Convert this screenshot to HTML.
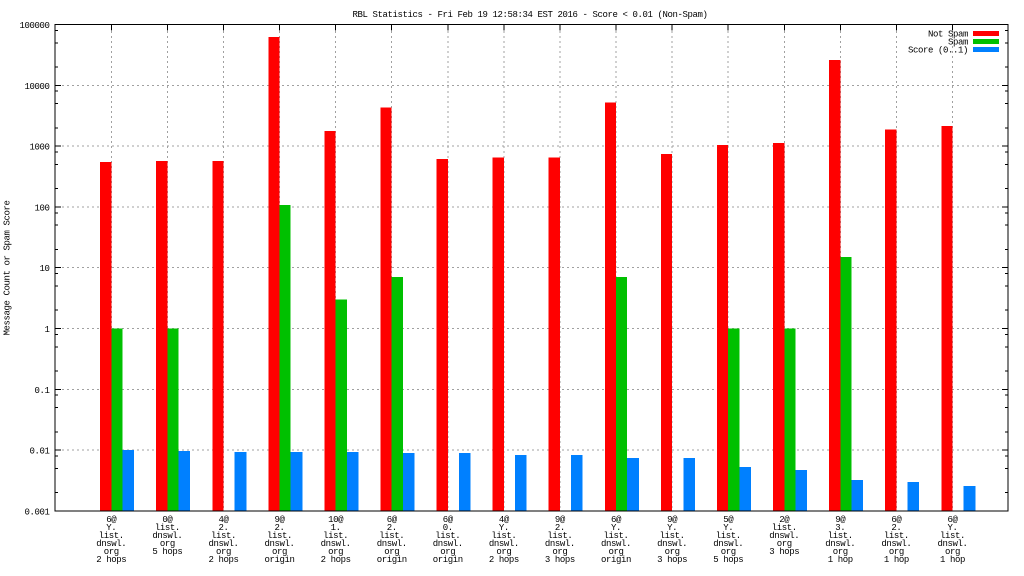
<!DOCTYPE html>
<html>
<head>
<meta charset="utf-8">
<style>
html,body{margin:0;padding:0;background:#fff;}
svg{display:block;}
text{font-family:"Liberation Mono","DejaVu Sans Mono",monospace;font-size:9px;letter-spacing:-0.4px;fill:#000;}
</style>
</head>
<body>
<svg width="1024" height="576" viewBox="0 0 1024 576" xmlns="http://www.w3.org/2000/svg">
<rect x="0" y="0" width="1024" height="576" fill="#fff"/>

<!-- grid -->
<g stroke="#a0a0a0" stroke-width="1" stroke-dasharray="2,3" fill="none" shape-rendering="crispEdges">
<path d="M62 85.3H1002M62 146.1H1002M62 206.9H1002M62 267.7H1002M62 328.5H1002M62 389.3H1002M62 450.1H1002"/>
<path d="M111.3 31V511M167.4 31V511M223.5 31V511M279.5 31V511M335.6 31V511M391.7 31V511M447.8 31V511M503.9 31V511M559.9 31V511M616 31V511M672.1 31V511M728.2 31V511M784.3 31V511M840.3 31V511M896.4 31V511M952.5 31V511"/>
</g>

<!-- bars -->
<g shape-rendering="crispEdges">
<g fill="#ff0000">
<rect x="100.1" y="162" width="11.2" height="349"/>
<rect x="156.2" y="161" width="11.2" height="350"/>
<rect x="212.3" y="161" width="11.2" height="350"/>
<rect x="268.3" y="37" width="11.2" height="474"/>
<rect x="324.4" y="131" width="11.2" height="380"/>
<rect x="380.5" y="107.7" width="11.2" height="403.3"/>
<rect x="436.6" y="159" width="11.2" height="352"/>
<rect x="492.7" y="157.7" width="11.2" height="353.3"/>
<rect x="548.7" y="157.7" width="11.2" height="353.3"/>
<rect x="604.8" y="102.7" width="11.2" height="408.3"/>
<rect x="660.9" y="154" width="11.2" height="357"/>
<rect x="717" y="145" width="11.2" height="366"/>
<rect x="773.1" y="143" width="11.2" height="368"/>
<rect x="829.1" y="60" width="11.2" height="451"/>
<rect x="885.2" y="129.7" width="11.2" height="381.3"/>
<rect x="941.3" y="126" width="11.2" height="385"/>
</g>
<g fill="#00c000">
<rect x="111.3" y="328.5" width="11.2" height="182.5"/>
<rect x="167.4" y="328.5" width="11.2" height="182.5"/>
<rect x="279.5" y="205" width="11.2" height="306"/>
<rect x="335.6" y="299.5" width="11.2" height="211.5"/>
<rect x="391.7" y="277" width="11.2" height="234"/>
<rect x="616" y="277" width="11.2" height="234"/>
<rect x="728.2" y="328.5" width="11.2" height="182.5"/>
<rect x="784.3" y="328.5" width="11.2" height="182.5"/>
<rect x="840.3" y="257" width="11.2" height="254"/>
</g>
<g fill="#0080ff">
<rect x="122.5" y="450" width="11.6" height="61"/>
<rect x="178.6" y="451" width="11.6" height="60"/>
<rect x="234.7" y="452" width="11.6" height="59"/>
<rect x="290.7" y="452" width="11.6" height="59"/>
<rect x="346.8" y="452" width="11.6" height="59"/>
<rect x="402.9" y="453" width="11.6" height="58"/>
<rect x="459" y="453" width="11.6" height="58"/>
<rect x="515.1" y="455" width="11.6" height="56"/>
<rect x="571.1" y="455" width="11.6" height="56"/>
<rect x="627.2" y="458" width="11.6" height="53"/>
<rect x="683.3" y="458" width="11.6" height="53"/>
<rect x="739.4" y="467" width="11.6" height="44"/>
<rect x="795.5" y="470" width="11.6" height="41"/>
<rect x="851.5" y="480" width="11.6" height="31"/>
<rect x="907.6" y="482" width="11.6" height="29"/>
<rect x="963.7" y="486" width="11.6" height="25"/>
</g>
</g>

<!-- border and ticks -->
<g stroke="#000" stroke-width="1" fill="none" shape-rendering="crispEdges">
<rect x="55" y="24.5" width="953" height="486.5"/>
<path d="M55 85.3H61M55 146.1H61M55 206.9H61M55 267.7H61M55 328.5H61M55 389.3H61M55 450.1H61"/>
<path d="M1008 85.3H1002M1008 146.1H1002M1008 206.9H1002M1008 267.7H1002M1008 328.5H1002M1008 389.3H1002M1008 450.1H1002"/>
<path d="M55 30.4H58M55 42.8H58M55 67H58M55 91.2H58M55 103.6H58M55 127.8H58M55 152H58M55 164.4H58M55 188.6H58M55 212.8H58M55 225.2H58M55 249.4H58M55 273.6H58M55 286H58M55 310.2H58M55 334.4H58M55 346.8H58M55 371H58M55 395.2H58M55 407.6H58M55 431.8H58M55 456H58M55 468.4H58M55 492.6H58"/>
<path d="M1008 30.4H1005M1008 42.8H1005M1008 67H1005M1008 91.2H1005M1008 103.6H1005M1008 127.8H1005M1008 152H1005M1008 164.4H1005M1008 188.6H1005M1008 212.8H1005M1008 225.2H1005M1008 249.4H1005M1008 273.6H1005M1008 286H1005M1008 310.2H1005M1008 334.4H1005M1008 346.8H1005M1008 371H1005M1008 395.2H1005M1008 407.6H1005M1008 431.8H1005M1008 456H1005M1008 468.4H1005M1008 492.6H1005"/>
<path d="M111.3 24.5V30.5M167.4 24.5V30.5M223.5 24.5V30.5M279.5 24.5V30.5M335.6 24.5V30.5M391.7 24.5V30.5M447.8 24.5V30.5M503.9 24.5V30.5M559.9 24.5V30.5M616 24.5V30.5M672.1 24.5V30.5M728.2 24.5V30.5M784.3 24.5V30.5M840.3 24.5V30.5M896.4 24.5V30.5M952.5 24.5V30.5"/>
</g>

<!-- title -->
<text x="530" y="17" text-anchor="middle">RBL Statistics - Fri Feb 19 12:58:34 EST 2016 - Score &lt; 0.01 (Non-Spam)</text>

<!-- y tick labels -->
<g text-anchor="end">
<text x="49.5" y="28">100000</text>
<text x="49.5" y="88.8">10000</text>
<text x="49.5" y="149.6">1000</text>
<text x="49.5" y="210.4">100</text>
<text x="49.5" y="271.2">10</text>
<text x="49.5" y="332">1</text>
<text x="49.5" y="392.8">0.1</text>
<text x="49.5" y="453.6">0.01</text>
<text x="49.5" y="514.4">0.001</text>
</g>

<!-- y axis label -->
<text transform="translate(9.5,268) rotate(-90)" text-anchor="middle">Message Count or Spam Score</text>

<!-- legend -->
<g text-anchor="end">
<text x="968" y="36.5">Not Spam</text>
<text x="968" y="44.5">Spam</text>
<text x="968" y="52.5">Score (0..1)</text>
</g>
<g shape-rendering="crispEdges">
<rect x="973" y="31" width="26" height="5" fill="#ff0000"/>
<rect x="973" y="39" width="26" height="5" fill="#00c000"/>
<rect x="973" y="47" width="26" height="5" fill="#0080ff"/>
</g>

<!-- x labels -->
<g text-anchor="middle">
<text x="111.3" y="522">6@</text><text x="111.3" y="530">Y.</text><text x="111.3" y="538">list.</text><text x="111.3" y="546">dnswl.</text><text x="111.3" y="554">org</text><text x="111.3" y="562">2 hops</text>
<text x="167.4" y="522">0@</text><text x="167.4" y="530">list.</text><text x="167.4" y="538">dnswl.</text><text x="167.4" y="546">org</text><text x="167.4" y="554">5 hops</text>
<text x="223.5" y="522">4@</text><text x="223.5" y="530">2.</text><text x="223.5" y="538">list.</text><text x="223.5" y="546">dnswl.</text><text x="223.5" y="554">org</text><text x="223.5" y="562">2 hops</text>
<text x="279.5" y="522">9@</text><text x="279.5" y="530">2.</text><text x="279.5" y="538">list.</text><text x="279.5" y="546">dnswl.</text><text x="279.5" y="554">org</text><text x="279.5" y="562">origin</text>
<text x="335.6" y="522">10@</text><text x="335.6" y="530">1.</text><text x="335.6" y="538">list.</text><text x="335.6" y="546">dnswl.</text><text x="335.6" y="554">org</text><text x="335.6" y="562">2 hops</text>
<text x="391.7" y="522">6@</text><text x="391.7" y="530">2.</text><text x="391.7" y="538">list.</text><text x="391.7" y="546">dnswl.</text><text x="391.7" y="554">org</text><text x="391.7" y="562">origin</text>
<text x="447.8" y="522">6@</text><text x="447.8" y="530">0.</text><text x="447.8" y="538">list.</text><text x="447.8" y="546">dnswl.</text><text x="447.8" y="554">org</text><text x="447.8" y="562">origin</text>
<text x="503.9" y="522">4@</text><text x="503.9" y="530">Y.</text><text x="503.9" y="538">list.</text><text x="503.9" y="546">dnswl.</text><text x="503.9" y="554">org</text><text x="503.9" y="562">2 hops</text>
<text x="559.9" y="522">9@</text><text x="559.9" y="530">2.</text><text x="559.9" y="538">list.</text><text x="559.9" y="546">dnswl.</text><text x="559.9" y="554">org</text><text x="559.9" y="562">3 hops</text>
<text x="616" y="522">6@</text><text x="616" y="530">Y.</text><text x="616" y="538">list.</text><text x="616" y="546">dnswl.</text><text x="616" y="554">org</text><text x="616" y="562">origin</text>
<text x="672.1" y="522">9@</text><text x="672.1" y="530">Y.</text><text x="672.1" y="538">list.</text><text x="672.1" y="546">dnswl.</text><text x="672.1" y="554">org</text><text x="672.1" y="562">3 hops</text>
<text x="728.2" y="522">5@</text><text x="728.2" y="530">Y.</text><text x="728.2" y="538">list.</text><text x="728.2" y="546">dnswl.</text><text x="728.2" y="554">org</text><text x="728.2" y="562">5 hops</text>
<text x="784.3" y="522">2@</text><text x="784.3" y="530">list.</text><text x="784.3" y="538">dnswl.</text><text x="784.3" y="546">org</text><text x="784.3" y="554">3 hops</text>
<text x="840.3" y="522">9@</text><text x="840.3" y="530">3.</text><text x="840.3" y="538">list.</text><text x="840.3" y="546">dnswl.</text><text x="840.3" y="554">org</text><text x="840.3" y="562">1 hop</text>
<text x="896.4" y="522">6@</text><text x="896.4" y="530">2.</text><text x="896.4" y="538">list.</text><text x="896.4" y="546">dnswl.</text><text x="896.4" y="554">org</text><text x="896.4" y="562">1 hop</text>
<text x="952.5" y="522">6@</text><text x="952.5" y="530">Y.</text><text x="952.5" y="538">list.</text><text x="952.5" y="546">dnswl.</text><text x="952.5" y="554">org</text><text x="952.5" y="562">1 hop</text>
</g>
</svg>
</body>
</html>
